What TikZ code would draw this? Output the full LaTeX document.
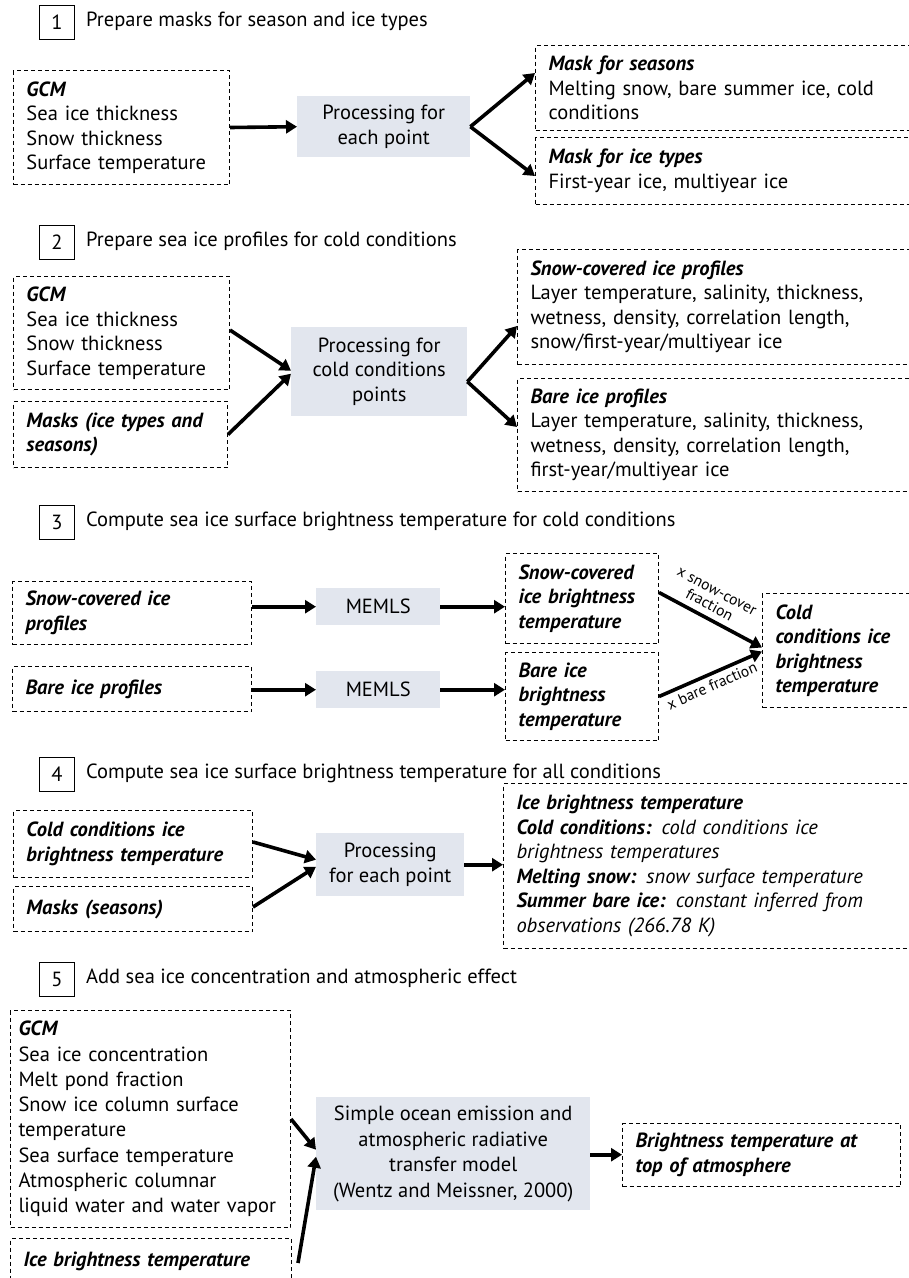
\documentclass[tikz,border=0pt]{standalone}
\usepackage{fontspec}
\setmainfont{PT Sans}
\usetikzlibrary{arrows.meta,positioning}
\definecolor{procgray}{RGB}{226,230,238}
\newcommand{\hd}[1]{{\bfseries\itshape #1}}
\tikzset{%
  inbox/.style    = {draw, dash pattern=on 4pt off 3pt, line width=1pt,%
                     anchor=north west, align=left,%
                     inner xsep=13pt, inner ysep=0pt},%
  procbox/.style  = {fill=procgray, align=center, anchor=north west,%
                     inner sep=0pt},%
  numbox/.style   = {draw, line width=1pt, anchor=north west,%
                     minimum width=35pt, minimum height=34pt, inner sep=0pt},%
  heading/.style  = {anchor=west, inner sep=0pt},%
  flow/.style     = {line width=3.6pt, -{Triangle[length=11pt,width=13pt]}}%
}

\begin{document}
\begin{tikzpicture}[x=1pt,y=-1pt,
	every node/.style = {font=\fontsize{20.5}{24.5}\selectfont},
	frac/.style = {font=\fontsize{15.5}{16}\selectfont, align=center, sloped, inner sep=1pt}]
		\clip (0,0) rectangle (909,1278);
		% 1
		\node [numbox] (num1) at (39,5) {1};
		\node [heading] (tit1) at (86,21) {Prepare masks for season and ice types};
		\node [inbox, text width=190pt, minimum height=114pt] (gcmA) at (13,70)
			{\hd{GCM}\\Sea ice thickness\\Snow thickness\\Surface temperature};
		\node [procbox, minimum width=173pt, minimum height=61pt] (procA) at (297,96)
			{Processing for\\each point};
		\node [inbox, text width=354pt, minimum height=85pt] (seasA) at (535,45)
			{\hd{Mask for seasons}\\Melting snow, bare summer ice, cold\\conditions};
		\node [inbox, text width=354pt, minimum height=67pt] (typeA) at (535,137)
			{\hd{Mask for ice types}\\First-year ice, multiyear ice};
		\draw [flow] (gcmA.east) -- (procA.west);
		\draw [flow] (procA.east) -- ([yshift=15pt]seasA.west);
		\draw [flow] (procA.east) -- ([yshift=-5pt]typeA.west);
		% 2
		\node [numbox] (num2) at (39,225) {2};
		\node [heading] (tit2) at (86,241) {Prepare sea ice profiles for cold conditions};
		\node [inbox, text width=190pt, minimum height=113pt] (gcmB) at (13,276)
			{\hd{GCM}\\Sea ice thickness\\Snow thickness\\Surface temperature};
		\node [inbox, text width=188pt, minimum height=66pt] (maskB) at (13,401)
			{\hd{Masks (ice types and}\\\hd{seasons)}};
		\node [procbox, minimum width=176pt, minimum height=89pt] (procB) at (291,327)
			{Processing for\\cold conditions\\points};
		\node [inbox, text width=372pt, minimum height=115pt] (snowB) at (517,249)
			{\hd{Snow-covered ice profiles}\\Layer temperature, salinity, thickness,\\wetness, density, correlation length,\\snow/first-year/multiyear ice};
		\node [inbox, text width=372pt, minimum height=113pt] (bareB) at (517,378)
			{\hd{Bare ice profiles}\\Layer temperature, salinity, thickness,\\wetness, density, correlation length,\\first-year/multiyear ice};
		\draw [flow] ([yshift=3pt]gcmB.east) -- ([yshift=1pt]procB.west);
		\draw [flow] ([yshift=0pt]maskB.east) -- ([yshift=-2pt]procB.west);
		\draw [flow] ([yshift=-10pt]procB.east) -- ([yshift=-19pt]snowB.west);
		\draw [flow] ([yshift=-10pt]procB.east) -- ([yshift=8pt]bareB.west);
		% 3
		\node [numbox] (num3) at (39,505) {3};
		\node [heading] (tit3) at (86,521) {Compute sea ice surface brightness temperature for cold conditions};
		\node [inbox, text width=213pt, minimum height=63pt] (snowC) at (12,581)
			{\hd{Snow-covered ice}\\\hd{profiles}};
		\node [inbox, text width=213pt, minimum height=45pt] (bareC) at (12,666)
			{\hd{Bare ice profiles}};
		\node [procbox, minimum width=124pt, minimum height=37pt] (memA) at (316,588) {MEMLS};
		\node [procbox, minimum width=124pt, minimum height=37pt] (memB) at (316,671) {MEMLS};
		\node [inbox, text width=127pt, minimum height=90pt] (snowTbC) at (505,553)
			{\hd{Snow-covered}\\\hd{ice brightness}\\\hd{temperature}};
		\node [inbox, text width=127pt, minimum height=88pt] (bareTbC) at (505,652)
			{\hd{Bare ice}\\\hd{brightness}\\\hd{temperature}};
		\node [inbox, text width=127pt, minimum height=114pt] (coldC) at (762,593)
			{\hd{Cold}\\\hd{conditions ice}\\\hd{brightness}\\\hd{temperature}};
		\draw [flow] (snowC.east |- memA.west) -- (memA.west);
		\draw [flow] (bareC.east |- memB.west) -- (memB.west);
		\draw [flow] (memA.east) -- (memA.east -| snowTbC.west);
		\draw [flow] (memB.east) -- (memB.east -| bareTbC.west);
		\draw [flow] ([yshift=6pt]snowTbC.east) -- ([yshift=3pt]coldC.west)
			node [frac, pos=0.43, above=5pt] {x snow-cover\\fraction};
		\draw [flow] (bareTbC.east) -- ([yshift=-1pt]coldC.west)
			node [frac, pos=0.47, below=3pt] {x bare fraction};
		% 4
		\node [numbox] (num4) at (39,757) {4};
		\node [heading] (tit4) at (86,773) {Compute sea ice surface brightness temperature for all conditions};
		\node [inbox, text width=213pt, minimum height=67pt] (coldD) at (13,810)
			{\hd{Cold conditions ice}\\\hd{brightness temperature}};
		\node [inbox, text width=213pt, minimum height=45pt] (maskD) at (13,886)
			{\hd{Masks (seasons)}};
		\node [procbox, minimum width=148pt, minimum height=63pt] (procD) at (316,833)
			{Processing\\for each point};
		\node [inbox, text width=387pt, minimum height=165pt] (iceD) at (503,783)
			{\hd{Ice brightness temperature}\\\hd{Cold conditions:} \textit{cold conditions ice}\\\textit{brightness temperatures}\\\hd{Melting snow:} \textit{snow surface temperature}\\\hd{Summer bare ice:} \textit{constant inferred from}\\\textit{observations (266.78 K)}};
		\draw [flow] ([yshift=2pt]coldD.east) -- ([yshift=5pt]procD.west);
		\draw [flow] ([yshift=2pt]maskD.east) -- ([yshift=-2pt]procD.west);
		\draw [flow] (procD.east) -- (procD.east -| iceD.west);
		% 5
		\node [numbox] (num5) at (39,962) {5};
		\node [heading] (tit5) at (86,978) {Add sea ice concentration and atmospheric effect};
		\node [inbox, text width=264pt, inner xsep=8pt, minimum height=217pt, font=\fontsize{20.5}{25.3}\selectfont] (gcmE) at (10,1010)
			{\hd{GCM}\\Sea ice concentration\\Melt pond fraction\\Snow ice column surface\\temperature\\Sea surface temperature\\Atmospheric columnar\\liquid water and water vapor};
		\node [inbox, text width=255pt, minimum height=45pt] (iceE) at (10,1238)
			{\hd{Ice brightness temperature}};
		\node [procbox, minimum width=274pt, minimum height=113pt, font=\fontsize{20.5}{25.5}\selectfont] (procE) at (316,1097)
			{Simple ocean emission and\\atmospheric radiative\\transfer model\\(Wentz and Meissner, 2000)};
		\node [inbox, text width=252pt, minimum height=63pt] (outE) at (622,1123)
			{\hd{Brightness temperature at}\\\hd{top of atmosphere}};
		\draw [flow] (gcmE.east) -- ([yshift=4pt]procE.west);
		\draw [flow] ([xshift=6pt,yshift=-2pt]iceE.east) -- ([yshift=-3pt]procE.west);
		\draw [flow] ([yshift=-1pt]procE.east) -- ([yshift=-1pt]procE.east -| outE.west);
	\end{tikzpicture}
\end{document}
